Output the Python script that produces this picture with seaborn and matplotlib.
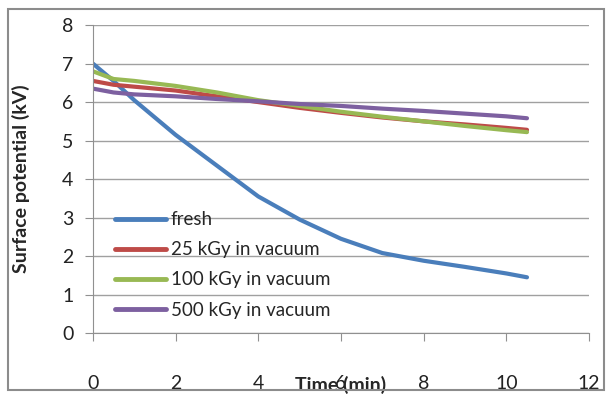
import matplotlib
matplotlib.use("Agg")
import matplotlib.pyplot as plt
import seaborn as sns
import pandas as pd
from matplotlib.patches import Rectangle

# time axis (min)
t_fresh = [0, 0.5, 1, 1.5, 2, 2.5, 3, 3.5, 4, 5, 6, 7, 8, 9, 10, 10.5]
fresh = [7.0, 6.55, 6.05, 5.6, 5.15, 4.75, 4.35, 3.95, 3.55, 2.95, 2.45, 2.08, 1.88, 1.72, 1.55, 1.45]

t_irr = [0, 0.5, 1, 2, 3, 4, 5, 6, 7, 8, 9, 10, 10.5]
kgy25 = [6.55, 6.45, 6.4, 6.3, 6.15, 6.0, 5.85, 5.72, 5.6, 5.5, 5.42, 5.33, 5.28]
kgy100 = [6.8, 6.6, 6.55, 6.42, 6.25, 6.05, 5.9, 5.75, 5.62, 5.5, 5.38, 5.27, 5.22]
kgy500 = [6.35, 6.25, 6.2, 6.15, 6.08, 6.02, 5.95, 5.9, 5.83, 5.77, 5.7, 5.63, 5.58]

labels = ["fresh", "25 kGy in vacuum", "100 kGy in vacuum", "500 kGy in vacuum"]
colors = ["#4a7ebb", "#be4b48", "#98b954", "#7d60a0"]

sns.set_style("white")
plt.rcParams['font.family'] = ['Lato', 'DejaVu Sans']

frames = [pd.DataFrame({"time": t_fresh, "V": fresh, "series": labels[0]})]
for lab, vals in zip(labels[1:], [kgy25, kgy100, kgy500]):
    frames.append(pd.DataFrame({"time": t_irr, "V": vals, "series": lab}))
df = pd.concat(frames, ignore_index=True)

fig = plt.figure(figsize=(6.11, 3.98), dpi=100)
ax = fig.add_axes([0.152, 0.163, 0.812, 0.774])

sns.lineplot(data=df, x="time", y="V", hue="series", hue_order=labels,
             palette=colors, linewidth=3, ax=ax, estimator=None, sort=False)

ax.set_xlim(0, 12)
ax.set_ylim(0, 8)
ax.set_xticks(range(0, 13, 2))
ax.set_yticks(range(0, 9))
ax.yaxis.grid(True, color="#a0a0a0", linewidth=1)
ax.xaxis.grid(False)
for s in ["top", "right"]:
    ax.spines[s].set_visible(False)
for s in ["left", "bottom"]:
    ax.spines[s].set_color("#909090")
ax.tick_params(axis="both", colors="#909090", labelcolor="#222222",
               labelsize=14, length=6, direction="out", bottom=True, left=True)
ax.tick_params(axis="x", pad=24)
ax.tick_params(axis="y", pad=8)

# Excel placed the axis title on top of the tick labels
ax.set_xlabel("Time (min)", fontsize=14, fontweight="bold")
ax.xaxis.set_label_coords(0.5, -0.168)
ax.xaxis.label.set_va("center")
ax.set_ylabel("Surface potential (kV)", fontsize=14, fontweight="bold")
ax.yaxis.set_label_coords(-0.127, 0.5)

leg = ax.legend(loc="upper left", bbox_to_anchor=(0.03, 0.42), frameon=False,
                fontsize=13.5, handlelength=2.7, handletextpad=0.25,
                labelspacing=0.7, borderaxespad=0)
for line in leg.get_lines():
    line.set_linewidth(3.5)

fig.patches.append(Rectangle((0.013, 0.02), 0.975, 0.957, transform=fig.transFigure,
                             fill=False, edgecolor="#8c8c8c", linewidth=1.5))

fig.savefig("out.png", dpi=100)
